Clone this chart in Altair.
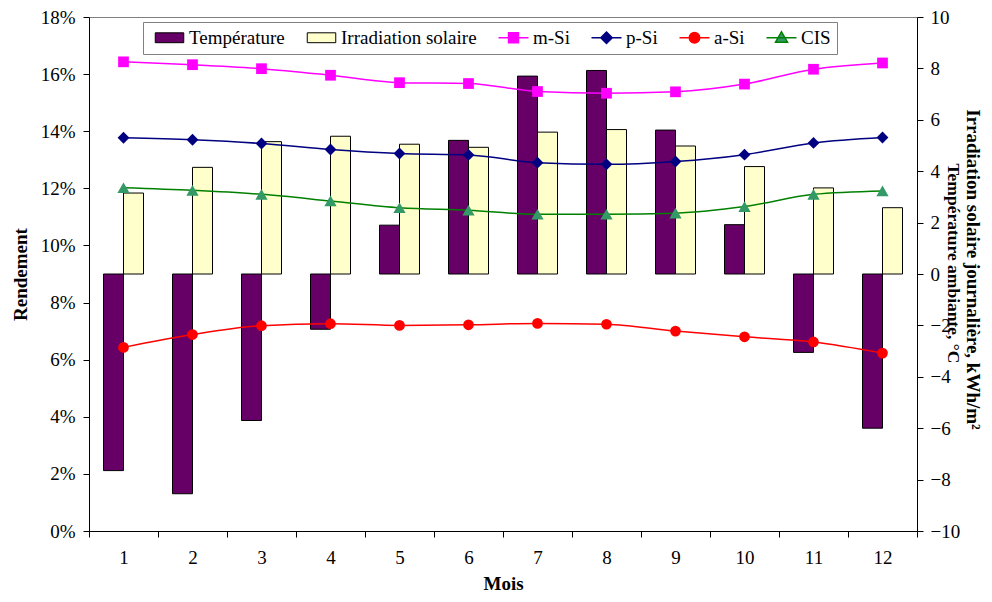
import altair as alt
import pandas as pd

FONT = "Liberation Serif"

# ---- data ----
mois = list(range(1, 13))
temperature = [-7.65, -8.55, -5.7, -2.15, 1.9, 5.2, 7.7, 7.92, 5.6, 1.92, -3.05, -6.0]
irradiation = [3.15, 4.15, 5.15, 5.36, 5.05, 4.93, 5.52, 5.62, 4.98, 4.18, 3.35, 2.58]
m_si = [16.43, 16.33, 16.19, 15.96, 15.70, 15.67, 15.39, 15.33, 15.38, 15.65, 16.17, 16.39]
p_si = [13.77, 13.70, 13.57, 13.36, 13.22, 13.17, 12.90, 12.84, 12.94, 13.18, 13.59, 13.78]
a_si = [6.43, 6.88, 7.19, 7.26, 7.20, 7.22, 7.27, 7.24, 7.00, 6.80, 6.62, 6.23]
cis = [12.02, 11.93, 11.79, 11.56, 11.32, 11.23, 11.09, 11.09, 11.13, 11.36, 11.79, 11.91]

series_bars = ["Température", "Irradiation solaire"]
series_lines = ["m-Si", "p-Si", "a-Si", "CIS"]
all_series = series_bars + series_lines
fill_colors = ["#660066", "#FFFFCC", "#FF00FF", "#000080", "#FF0000", "#339966"]
stroke_colors = ["#000000", "#000000", "#FF00FF", "#000080", "#FF0000", "#008000"]
marker_shapes = {"m-Si": ("square", 115), "p-Si": ("diamond", 140),
                 "a-Si": ("circle", 115), "CIS": ("triangle-up", 150)}

title_right_1 = "Irradiation solaire journalière, kWh/m²"
title_right_2 = "Température ambiante, °C"

bars_df = pd.DataFrame({
    "Mois": mois * 2,
    "Série": ["Température"] * 12 + ["Irradiation solaire"] * 12,
    "Valeur": temperature + irradiation,
})
line_vals = {"m-Si": m_si, "p-Si": p_si, "a-Si": a_si, "CIS": cis}
lines_df = pd.DataFrame({
    "Mois": mois * 4,
    "Série": sum([[s] * 12 for s in series_lines], []),
    "Valeur": sum([line_vals[s] for s in series_lines], []),
})

fill_scale = alt.Scale(domain=all_series, range=fill_colors)
stroke_scale = alt.Scale(domain=all_series, range=stroke_colors)

x_enc = alt.X(
    "Mois:O",
    title="Mois",
    scale=alt.Scale(paddingInner=0, paddingOuter=0),
    axis=alt.Axis(labelAngle=0, tickBand="extent", tickSize=6, labelPadding=11,
                  titleX=414, titleY=52, titleBaseline="middle", titleAlign="center"),
)

sym_shape = (
    "datum.value === 'Température' || datum.value === 'Irradiation solaire' ? 'M-0.95,-0.33H0.95V0.33H-0.95Z' : "
    "datum.value === 'm-Si' ? 'M-1,0H1M-0.33,-0.33H0.33V0.33H-0.33Z' : "
    "datum.value === 'p-Si' ? 'M-1,0H1M0,-0.38L0.38,0L0,0.38L-0.38,0Z' : "
    "datum.value === 'a-Si' ? 'M-1,0H1M-0.35,0A0.35,0.35 0 1,0 0.35,0A0.35,0.35 0 1,0 -0.35,0Z' : "
    "'M-1,0H1M0,-0.4L0.4,0.3L-0.4,0.3Z'"
)

legend = alt.Legend(
    title=None, orient="none", legendX=54, legendY=5, direction="horizontal", columns=6,
    labelFontSize=19, labelFont=FONT, labelColor="black", symbolSize=900,
    symbolOffset=11, labelOffset=10,
    columnPadding=16, strokeColor="#808080", fillColor="white", padding=6,
    symbolType={"expr": sym_shape},
    symbolStrokeWidth={"expr": "indexof(['Température','Irradiation solaire'], datum.value) >= 0 ? 1 : 1.5"},
    symbolOpacity=1,
)

bars = alt.Chart(bars_df).mark_bar(strokeWidth=1).encode(
    x=x_enc,
    xOffset=alt.XOffset("Série:N", sort=series_bars,
                        scale=alt.Scale(domain=series_bars, paddingInner=0, paddingOuter=0.725)),
    y=alt.Y("Valeur:Q",
            scale=alt.Scale(domain=[-10, 10], nice=False),
            axis=alt.Axis(orient="right", values=list(range(-10, 11, 2)), tickSize=6,
                          labelPadding=7, grid=False, title=title_right_1,
                          titleAngle=90, titleX=55, titleY=252, titleAlign="center",
                          titleBaseline="middle")),
    fill=alt.Fill("Série:N", scale=fill_scale, legend=legend),
    stroke=alt.Stroke("Série:N", scale=stroke_scale, legend=legend),
)

# second line of the right-hand title, carried by a label-less axis of an invisible layer
title2 = alt.Chart(bars_df).mark_point(opacity=0).encode(
    x=x_enc,
    y=alt.Y("Valeur:Q",
            scale=alt.Scale(domain=[-10, 10], nice=False),
            axis=alt.Axis(orient="right", labels=False, ticks=False, domain=False, grid=False,
                          title=title_right_2, titleAngle=90, titleX=35, titleY=246,
                          titleAlign="center", titleBaseline="middle", titleFontSize=17.5)),
)

y_left = alt.Y("Valeur:Q",
               scale=alt.Scale(domain=[0, 18], nice=False),
               axis=alt.Axis(orient="left", values=list(range(0, 19, 2)), tickSize=6,
                             labelPadding=8, grid=False, labelExpr="datum.value + '%'",
                             title="Rendement", titleAngle=-90, titleX=-69, titleY=257,
                             titleAlign="center", titleBaseline="middle"))

lines = alt.Chart(lines_df).mark_line(strokeWidth=1.5, interpolate="monotone").encode(
    x=x_enc,
    y=y_left,
    stroke=alt.Stroke("Série:N", scale=stroke_scale, legend=legend),
    detail="Série:N",
)

points = []
for s in series_lines:
    shp, sz = marker_shapes[s]
    points.append(
        alt.Chart(lines_df).transform_filter(alt.datum["Série"] == s)
        .mark_point(shape=shp, size=sz, filled=True, opacity=1, strokeWidth=0)
        .encode(x=x_enc, y=y_left,
                fill=alt.Fill("Série:N", scale=fill_scale, legend=legend))
    )

left_layer = alt.layer(lines, *points)

chart = alt.layer(bars, title2, left_layer).resolve_scale(y="independent").properties(
    width=828, height=514,
    padding={"left": 81, "top": 9, "right": 67, "bottom": 63},
    autosize=alt.AutoSizeParams(type="none"),
).configure(font=FONT).configure_view(stroke="#808080", strokeWidth=1).configure_axis(
    domainColor="black", tickColor="black", labelColor="black", titleColor="black",
    labelFontSize=19, titleFontSize=19, titleFontWeight="bold", labelFont=FONT, titleFont=FONT,
    domainWidth=1, tickWidth=1,
)

chart.save("out.html", embed_options={"renderer": "svg", "actions": False})
